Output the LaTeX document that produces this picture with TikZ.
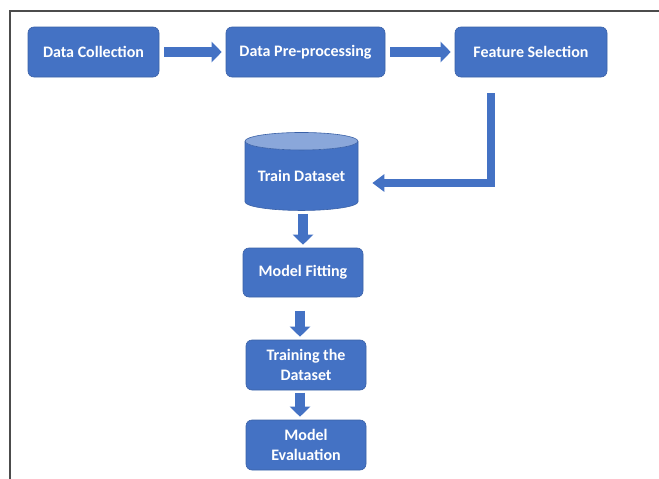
\documentclass[tikz,border=0pt]{standalone}
\usepackage{fontspec}
\setmainfont{Carlito}
\usetikzlibrary{arrows.meta,shapes.geometric}
\definecolor{FlowBlue}{HTML}{4472C4}
\definecolor{FlowLight}{HTML}{8AA7DA}
\tikzset{
    FlowText/.style={text=white, font=\bfseries\fontsize{16}{20}\selectfont, align=center},
    FlowBox/.style={FlowText, draw=FlowBlue!85!black, line width=0.6pt, fill=FlowBlue, rounded corners=6pt, inner sep=0pt},
    DataStore/.style={FlowText, cylinder, shape border rotate=90, aspect=0.2, draw=FlowBlue!85!black, line width=0.6pt,
        cylinder uses custom fill, cylinder body fill=FlowBlue, cylinder end fill=FlowLight, inner sep=0pt},
    FlowArrow/.style={FlowBlue, line width=10pt, -{Triangle[length=10pt,width=20pt]}, shorten <=5pt, shorten >=4pt},
    DownArrow/.style={FlowArrow, shorten <=3pt, shorten >=3pt},
}
\begin{document}
\begin{tikzpicture}[x=1pt,y=-1pt]
    \useasboundingbox (0,0) rectangle (659,479);
    \draw[line width=1.5pt, color=gray!60!black] (659,11) -- (10,11) -- (10,479); % frame
    % top row
    \node[FlowBox, minimum width=131pt, minimum height=50pt] (DataCollection) at (93.5,52) {Data Collection};
    \node[FlowBox, minimum width=159pt, minimum height=50pt] (DataPre) at (305.5,52) {Data Pre-processing};
    \node[FlowBox, minimum width=152pt, minimum height=50pt] (FeatureSel) at (531,52) {Feature Selection};
    % column
    \node[DataStore, minimum width=113pt, minimum height=78pt] (TrainData) at (301.5,176) {Train Dataset};
    \node[FlowBox, minimum width=120pt, minimum height=49pt] (ModelFitting) at (303,272.5) {Model Fitting};
    \node[FlowBox, minimum width=120pt, minimum height=50pt] (TrainingSet) at (306,365) {Training the\\Dataset};
    \node[FlowBox, minimum width=120pt, minimum height=50pt] (ModelEval) at (306,445) {Model\\Evaluation};
    \coordinate (ElbowStart) at (491,93);
    \draw[FlowArrow] (DataCollection) -- (DataPre);
    \draw[FlowArrow] (DataPre) -- (FeatureSel);
    \draw[FlowArrow, line width=8pt, -{Triangle[length=12pt,width=17pt]}, shorten <=0pt, shorten >=14pt]
        (ElbowStart) |- ([yshift=-7pt]TrainData.east);
    \draw[DownArrow] (ModelFitting.north |- TrainData.south) -- (ModelFitting.north);
    \draw[DownArrow] (TrainingSet.north -| 300,0) ++(0,-32) -- (TrainingSet.north -| 300,0);
    \draw[DownArrow] (ModelEval.north -| 300,0) ++(0,-30) -- (ModelEval.north -| 300,0);
\end{tikzpicture}
\end{document}
